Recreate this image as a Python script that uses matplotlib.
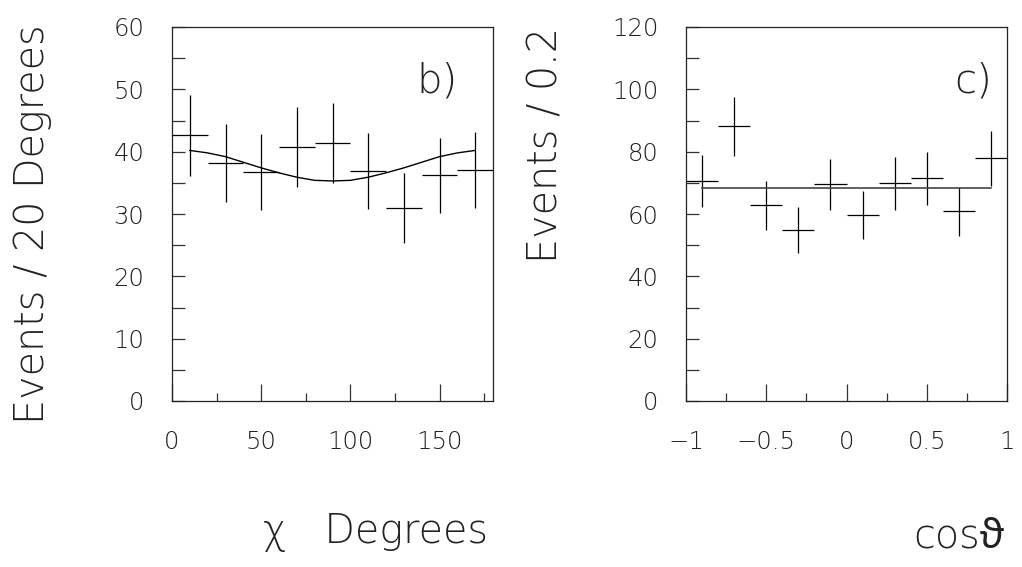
import matplotlib
matplotlib.use("Agg")
import matplotlib.pyplot as plt
from matplotlib.ticker import MultipleLocator, FixedLocator, FixedFormatter

# パネル b) : chi 分布 (20度ビン)
chi_centers = [10, 30, 50, 70, 90, 110, 130, 150, 170]
chi_counts = [42.6, 38.2, 36.8, 40.8, 41.4, 36.9, 30.9, 36.2, 37.0]
chi_errors = [6.5, 6.2, 6.1, 6.4, 6.4, 6.1, 5.6, 6.0, 6.1]
chi_fit_x = [10, 20, 30, 40, 50, 60, 70, 80, 90, 100, 110, 120, 130, 140, 150, 160, 170]
chi_fit_y = [40.2, 39.8, 39.2, 38.3, 37.4, 36.6, 35.9, 35.4, 35.3, 35.4, 35.9, 36.6, 37.4, 38.3, 39.2, 39.8, 40.2]

# パネル c) : cos(theta) 分布 (0.2ビン)
cos_centers = [-0.9, -0.7, -0.5, -0.3, -0.1, 0.1, 0.3, 0.5, 0.7, 0.9]
cos_counts = [70.5, 88.1, 62.8, 54.9, 69.5, 59.7, 69.8, 71.5, 60.9, 77.9]
cos_errors = [8.4, 9.4, 7.9, 7.4, 8.3, 7.7, 8.4, 8.5, 7.8, 8.8]
cos_fit_x = [-0.9, 0.9]
cos_fit_y = [68.5, 68.5]

chi_ticks = [0, 50, 100, 150]
chi_ticklabels = ["0", "50", "100", "150"]
cos_ticks = [-1, -0.5, 0, 0.5, 1]
cos_ticklabels = ["\u22121", "\u22120.5", "0", "0.5", "1"]

FONT = ["DejaVu Sans", "Noto Sans", "DejaVu Serif"]
WEIGHT = 200
plt.rcParams["font.family"] = FONT
plt.rcParams["font.weight"] = WEIGHT
INK = "#222222"


def style_axes(ax):
    # ROOT風の枠と内向きの目盛り
    for sp in ax.spines.values():
        sp.set_linewidth(0.9)
        sp.set_color(INK)
    ax.tick_params(axis="both", which="both", direction="in", top=False, right=False,
                   width=0.9, color="#333333", labelsize=17.5)
    ax.tick_params(axis="x", which="major", length=12, pad=21)
    ax.tick_params(axis="x", which="minor", length=6)
    ax.tick_params(axis="y", which="both", length=9.5, pad=20)
    for lab in ax.get_xticklabels() + ax.get_yticklabels():
        lab.set_fontweight(WEIGHT)
        lab.set_color(INK)


fig = plt.figure(figsize=(10.22, 5.67), dpi=100)

# 左パネル
ax1 = fig.add_axes([172 / 1022, 1 - 401 / 567, 321 / 1022, 374 / 567])
ax1.errorbar(chi_centers, chi_counts, xerr=10, yerr=chi_errors, fmt="none",
             ecolor="black", elinewidth=0.9, capsize=0)
ax1.plot(chi_fit_x, chi_fit_y, color="black", lw=1.0)
ax1.set_xlim(0, 180)
ax1.set_ylim(0, 60)
ax1.xaxis.set_major_locator(FixedLocator(chi_ticks))
ax1.xaxis.set_major_formatter(FixedFormatter(chi_ticklabels))
ax1.xaxis.set_minor_locator(FixedLocator([25, 75, 125, 175]))
ax1.yaxis.set_major_locator(MultipleLocator(10))
ax1.yaxis.set_minor_locator(MultipleLocator(5))
style_axes(ax1)
ax1.text(0.89, 0.855, "b)", transform=ax1.transAxes, fontsize=29, fontweight=WEIGHT,
         ha="right", va="center", color=INK)

# 右パネル
ax2 = fig.add_axes([686 / 1022, 1 - 401 / 567, 321 / 1022, 374 / 567])
ax2.errorbar(cos_centers, cos_counts, xerr=0.1, yerr=cos_errors, fmt="none",
             ecolor="black", elinewidth=0.9, capsize=0)
ax2.plot(cos_fit_x, cos_fit_y, color="#444444", lw=1.2)
ax2.set_xlim(-1, 1)
ax2.set_ylim(0, 120)
ax2.xaxis.set_major_locator(FixedLocator(cos_ticks))
ax2.xaxis.set_major_formatter(FixedFormatter(cos_ticklabels))
ax2.xaxis.set_minor_locator(FixedLocator([-0.75, -0.25, 0.25, 0.75]))
ax2.yaxis.set_major_locator(MultipleLocator(20))
ax2.yaxis.set_minor_locator(MultipleLocator(10))
style_axes(ax2)
ax2.text(0.955, 0.855, "c)", transform=ax2.transAxes, fontsize=29, fontweight=WEIGHT,
         ha="right", va="center", color=INK)

# 軸タイトル (ROOTのように軸の端に揃える)
fig.text(33 / 1022, 1 - 24 / 567, "Events / 20 Degrees", rotation=90, ha="center", va="top",
         fontsize=28.5, fontweight=WEIGHT, color=INK)
fig.text(546 / 1022, 1 - 27 / 567, "Events / 0.2", rotation=90, ha="center", va="top",
         fontsize=28.5, fontweight=WEIGHT, color=INK)
fig.text(488 / 1022, 1 - 543 / 567, "\u03c7   Degrees", ha="right", va="baseline",
         fontsize=28.5, fontweight=WEIGHT, color=INK)
fig.text(1005 / 1022, 1 - 548 / 567, "cos\u03d1", ha="right", va="baseline",
         fontsize=28.5, fontweight=WEIGHT, color=INK, family=FONT)

fig.savefig("out.png", dpi=100)
